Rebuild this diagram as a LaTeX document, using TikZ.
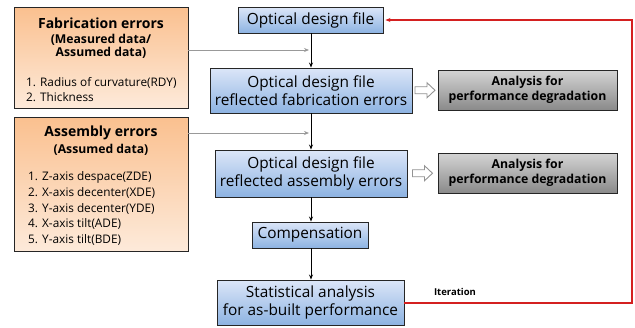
\documentclass[tikz,border=0pt]{standalone}
\usepackage{fontspec}
\setmainfont{Open Sans}
\usetikzlibrary{arrows.meta,calc}
\definecolor{blueTop}{HTML}{DCE6F8}
\definecolor{blueBot}{HTML}{8DB3E2}
\definecolor{orTop}{HTML}{FAC08F}
\definecolor{orBot}{HTML}{FDEADA}
\definecolor{grTop}{HTML}{D4D4D4}
\definecolor{grBot}{HTML}{8A8A8A}
\definecolor{iterRed}{HTML}{D42020}
\begin{document}
\begin{tikzpicture}[x=1pt,y=-1pt,
  bluebox/.style={draw=black!85, line width=0.9pt, top color=blueTop, bottom color=blueBot, align=center, inner sep=0pt, font=\fontsize{15.4}{18}\selectfont},
  orbox/.style={draw=black!85, line width=0.9pt, top color=orTop, bottom color=orBot, inner sep=0pt},
  grbox/.style={draw=black!85, line width=0.9pt, top color=grTop, bottom color=grBot, align=center, inner sep=0pt, font=\bfseries\fontsize{12.3}{15}\selectfont},
  ttl/.style={font=\bfseries\fontsize{14}{16}\selectfont, inner sep=0pt},
  sub/.style={font=\bfseries\fontsize{12.2}{13}\selectfont, align=center, inner sep=0pt},
  item/.style={font=\fontsize{11.8}{15.7}\selectfont, align=left, anchor=west, inner sep=0pt},
  flow/.style={-{Stealth[length=5pt,width=4pt]}, line width=0.9pt, black},
  feed/.style={-{Stealth[length=5pt,width=4pt]}, line width=0.8pt, gray!80},
  hollow/.style={draw=gray!85, fill=white, line width=0.9pt, line join=miter},
]
\useasboundingbox (0,0) rectangle (635,327);
% left boxes
\node[orbox, minimum width=174pt, minimum height=101pt] (fab) at (101,57.5) {};
\node[ttl] (fabT) at (101,23) {Fabrication errors};
\node[sub] (fabS) at (101,46) {(Measured data/\\Assumed data)};
\node[item, font=\fontsize{11.8}{15}\selectfont] (fabI) at (26,89.5) {1. Radius of curvature(RDY)\\2. Thickness};

\node[orbox, minimum width=174pt, minimum height=134pt] (asm) at (101,184) {};
\node[ttl] (asmT) at (101,133) {Assembly errors};
\node[sub] (asmS) at (101,150) {(Assumed data)};
\node[item] (asmI) at (28,208.5) {1. Z-axis despace(ZDE)\\2. X-axis decenter(XDE)\\3. Y-axis decenter(YDE)\\4. X-axis tilt(ADE)\\5. Y-axis tilt(BDE)};

% central flow
\node[bluebox, minimum width=145pt, minimum height=26pt] (odf) at (310.5,20) {Optical design file};
\node[bluebox, minimum width=202pt, minimum height=45pt] (odfFab) at (311,90.5) {Optical design file\\reflected fabrication errors};
\node[bluebox, minimum width=192pt, minimum height=47pt] (odfAsm) at (311,173.5) {Optical design file\\reflected assembly errors};
\node[bluebox, minimum width=116pt, minimum height=26pt] (comp) at (310,235) {Compensation};
\node[bluebox, minimum width=187pt, minimum height=45pt] (stat) at (310.5,302.5) {Statistical analysis\\for as-built performance};

% analysis boxes
\node[grbox, minimum width=179pt, minimum height=40pt] (ana1) at (527.5,90) {Analysis for\\performance degradation};
\node[grbox, minimum width=179pt, minimum height=40pt] (ana2) at (527.5,173) {Analysis for\\performance degradation};

% hollow arrows
\coordinate (h1) at ($(odfFab.east)!0.5!(ana1.west)$);
\coordinate (h2) at ($(odfAsm.east)!0.5!(ana2.west)$);
\foreach \h in {h1,h2}{
  \draw[hollow] ($(\h)+(-10,-3.5)$) -- ($(\h)+(2,-3.5)$) -- ($(\h)+(2,-7.5)$) -- ($(\h)+(10,0)$) -- ($(\h)+(2,7.5)$) -- ($(\h)+(2,3.5)$) -- ($(\h)+(-10,3.5)$) -- cycle;
}

% flow arrows
\draw[flow] (odf.south -| 311,0) -- (odfFab.north -| 311,0);
\draw[flow] (odfFab.south -| 311,0) -- (odfAsm.north -| 311,0);
\draw[flow] (odfAsm.south -| 311,0) -- (comp.north -| 311,0);
\draw[flow] (comp.south -| 311,0) -- (stat.north -| 311,0);

% feed arrows
\coordinate (fabEnd) at (309,50);
\coordinate (asmEnd) at (309,133);
\draw[feed] (fab.east |- fabEnd) -- (fabEnd);
\draw[feed] (asm.east |- asmEnd) -- (asmEnd);

% iteration loop
\coordinate (loopR) at (632,303);
\draw[iterRed, line width=1.1pt, -{Stealth[length=5pt,width=4pt]}] (stat.east |- loopR) -- (loopR) -- (loopR |- odf.east) -- ($(odf.east)+(2,0)$);
\node[font=\bfseries\fontsize{9.5}{11}\selectfont, inner sep=0pt] (iter) at (455,292) {Iteration};
\end{tikzpicture}
\end{document}
